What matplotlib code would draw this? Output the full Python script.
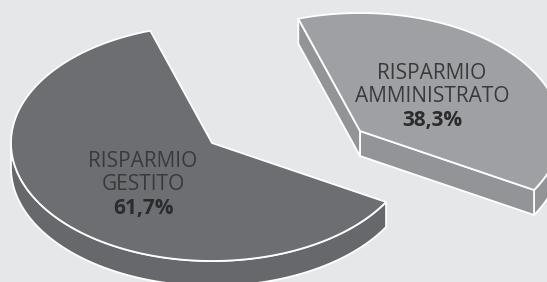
import matplotlib.pyplot as plt
import numpy as np
from matplotlib.patches import Polygon

# dati
etichette = ['RISPARMIO\nAMMINISTRATO', 'RISPARMIO\nGESTITO']
valori = [38.3, 61.7]
colori_top = ['#9fa0a3', '#6d6e71']
colori_lato = ['#939497', '#67686b']

# geometria della torta 3D (in pixel)
centro = (212, 143)
a, b = 201, 118          # semiassi dell'ellisse
spessore = 25
stacco = [(148, -12), (0, 0)]   # spostamento della fetta esplosa
angolo_iniziale = -30

W, H = 547, 282
fig = plt.figure(figsize=(W / 100, H / 100), dpi=100)
fig.patch.set_facecolor('#e6e7e8')
ax = fig.add_axes([0, 0, 1, 1])
ax.set_xlim(0, W)
ax.set_ylim(H, 0)
ax.axis('off')


def punto(cx, cy, t, dz=0):
    r = np.radians(t)
    return cx + a * np.cos(r), cy - b * np.sin(r) + dz


def arco(cx, cy, t0, t1, dz=0, n=120):
    tt = np.linspace(t0, t1, n)
    return [punto(cx, cy, t, dz) for t in tt]


kw = dict(edgecolor='white', linewidth=1.3, joinstyle='round')

t0 = angolo_iniziale
for i, v in enumerate(valori):
    t1 = t0 + v / 100 * 360
    cx, cy = centro[0] + stacco[i][0], centro[1] + stacco[i][1]

    # lato curvo visibile (parte anteriore dell'ellisse)
    for lo, hi in [(-180, 0), (180, 360)]:
        s, e = max(t0, lo), min(t1, hi)
        if s < e:
            top = arco(cx, cy, s, e)
            bot = arco(cx, cy, s, e, spessore)[::-1]
            ax.add_patch(Polygon(top + bot, facecolor=colori_lato[i], **kw))

    # pareti radiali visibili
    for t, segno in [(t0, -1), (t1, 1)]:
        normale = np.radians(t + segno * 90)
        if np.sin(normale) < 0:
            p = punto(cx, cy, t)
            poly = [(cx, cy), p, (p[0], p[1] + spessore), (cx, cy + spessore)]
            ax.add_patch(Polygon(poly, facecolor=colori_lato[i], **kw))

    # faccia superiore
    ax.add_patch(Polygon([(cx, cy)] + arco(cx, cy, t0, t1),
                         facecolor=colori_top[i], **kw))
    t0 = t1

# etichette
font = ['Open Sans', 'DejaVu Sans']
pos_testo = [(432, 79), (143, 167)]
for (x, y), lab, v in zip(pos_testo, etichette, valori):
    righe = lab.split('\n')
    for k, r in enumerate(righe):
        ax.text(x, y + k * 23.5, r, ha='center', va='baseline',
                fontsize=15, color='#3a3a3c', family=font, fontweight='normal')
    ax.text(x, y + len(righe) * 23.5, f'{v:.1f}%'.replace('.', ','),
            ha='center', va='baseline', fontsize=15, color='#2b2b2d',
            family=font, fontweight='bold')

fig.savefig('out.png', dpi=100, facecolor=fig.get_facecolor())
